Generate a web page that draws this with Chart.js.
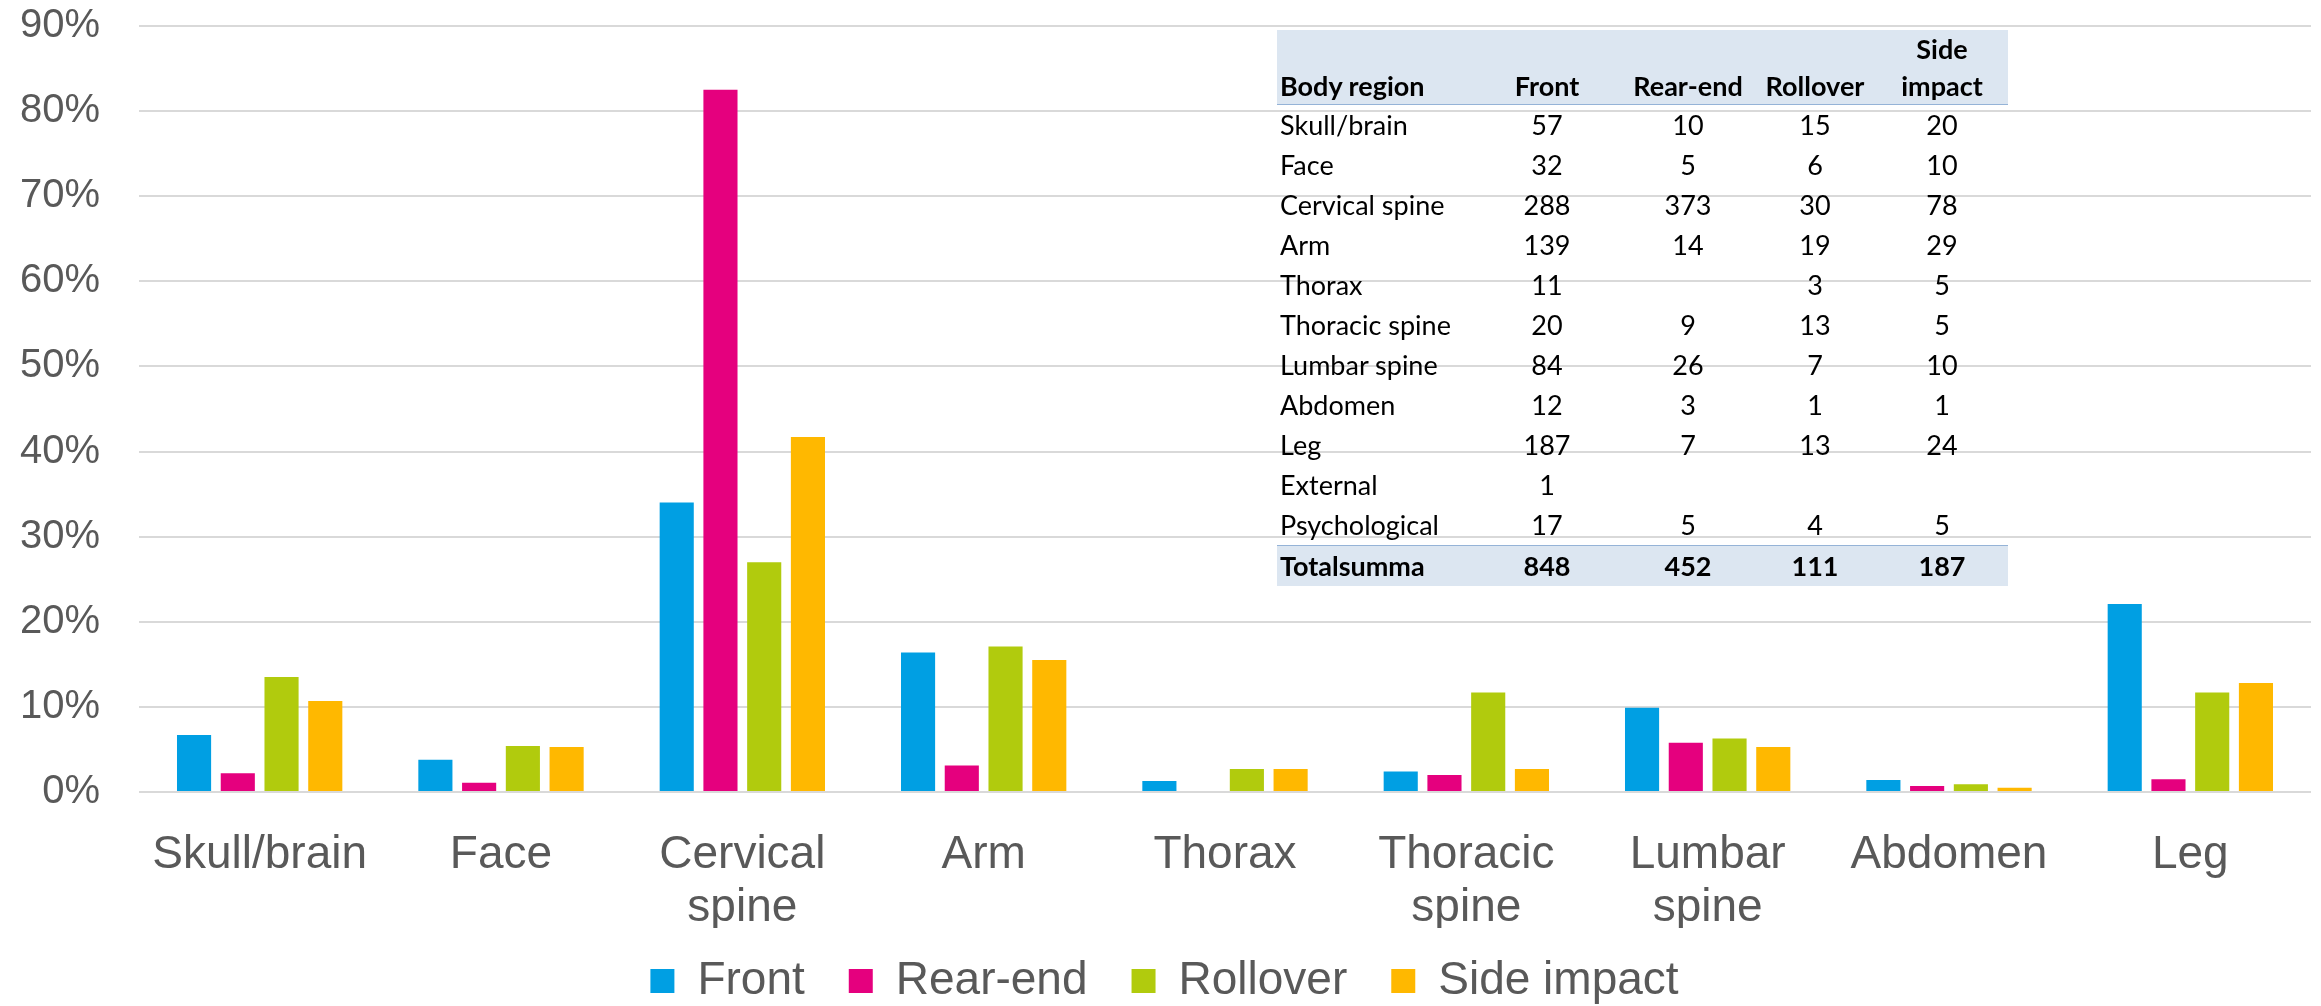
<!DOCTYPE html>
<html>
<head>
<meta charset="utf-8">
<script src="https://cdn.jsdelivr.net/npm/chart.js@4"></script>
<style>
  html, body { margin: 0; padding: 0; background: #fff; }
  #wrap { position: relative; width: 2321px; height: 1006px; }
  #chart { display: block; }
  #dataTable {
    position: absolute; left: 1277px; top: 30px;
    border-collapse: collapse; table-layout: fixed;
    font-family: Lato, "Noto Sans", sans-serif; font-size: 27px; color: #000;
  }
  #dataTable td, #dataTable th { padding: 0; height: 40px; line-height: 40px; white-space: nowrap; }
  #dataTable th { font-weight: 700; text-align: center; vertical-align: bottom; line-height: 37px; height: 72px; }
  #dataTable .lbl { text-align: left; padding-left: 3px; }
  #dataTable td { text-align: center; }
  #dataTable thead tr, #dataTable tfoot tr { background: #dce6f1; }
  #dataTable thead tr { border-bottom: 1px solid #95b3d7; }
  #dataTable tfoot tr { border-top: 1px solid #95b3d7; }
  #dataTable tfoot td { font-weight: 700; }
</style>
</head>
<body>
<div id="wrap">
  <canvas id="chart" width="2321" height="1006"></canvas>
  <table id="dataTable">
    <colgroup>
      <col style="width:195px"><col style="width:150px"><col style="width:132px"><col style="width:122px"><col style="width:132px">
    </colgroup>
    <thead></thead>
    <tbody></tbody>
    <tfoot></tfoot>
  </table>
</div>
<script>
// ── Chart data (share of each crash type, %) ──────────────
const categories = ['Skull/brain', 'Face', ['Cervical', 'spine'], 'Arm', 'Thorax',
  ['Thoracic', 'spine'], ['Lumbar', 'spine'], 'Abdomen', 'Leg'];
const seriesNames = ['Front', 'Rear-end', 'Rollover', 'Side impact'];
const frontPct    = [6.7, 3.8, 34.0, 16.4, 1.3, 2.4, 9.9, 1.4, 22.1];
const rearEndPct  = [2.2, 1.1, 82.5, 3.1, null, 2.0, 5.8, 0.7, 1.5];
const rolloverPct = [13.5, 5.4, 27.0, 17.1, 2.7, 11.7, 6.3, 0.9, 11.7];
const sidePct     = [10.7, 5.3, 41.7, 15.5, 2.7, 2.7, 5.3, 0.5, 12.8];
const yTicks = [0, 10, 20, 30, 40, 50, 60, 70, 80, 90];

const COLORS = ['#009fe3', '#e5007e', '#b1cb0d', '#ffb800'];
const FONT = '"Liberation Sans", Arial, sans-serif';

// ── Table data (counts) ───────────────────────────────────
const tableHeaders = ['Body region', 'Front', 'Rear-end', 'Rollover', ['Side', 'impact']];
const tableRegions = ['Skull/brain', 'Face', 'Cervical spine', 'Arm', 'Thorax', 'Thoracic spine',
  'Lumbar spine', 'Abdomen', 'Leg', 'External', 'Psychological'];
const tableFront    = [57, 32, 288, 139, 11, 20, 84, 12, 187, 1, 17];
const tableRearEnd  = [10, 5, 373, 14, '', 9, 26, 3, 7, '', 5];
const tableRollover = [15, 6, 30, 19, 3, 13, 7, 1, 13, '', 4];
const tableSide     = [20, 10, 78, 29, 5, 5, 10, 1, 24, '', 5];
const tableTotals   = ['Totalsumma', 848, 452, 111, 187];

// ── Table ─────────────────────────────────────────────────
function renderTable() {
  const t = document.getElementById('dataTable');
  t.querySelector('thead').innerHTML = '<tr>' + tableHeaders.map((h, i) =>
    `<th class="${i === 0 ? 'lbl' : ''}">${Array.isArray(h) ? h.join('<br>') : h}</th>`).join('') + '</tr>';
  t.querySelector('tbody').innerHTML = tableRegions.map((r, i) => `
    <tr>
      <td class="lbl">${r}</td>
      <td>${tableFront[i]}</td>
      <td>${tableRearEnd[i]}</td>
      <td>${tableRollover[i]}</td>
      <td>${tableSide[i]}</td>
    </tr>`).join('');
  t.querySelector('tfoot').innerHTML = '<tr>' + tableTotals.map((v, i) =>
    `<td class="${i === 0 ? 'lbl' : ''}">${v}</td>`).join('') + '</tr>';
}

// legend box gets a fixed height; items are drawn a bit higher, like the original
const legendFix = {
  id: 'legendFix',
  afterInit(chart) {
    const lg = chart.legend;
    const fit = lg.fit;
    const draw = lg.draw;
    lg.fit = function () { fit.call(this); this.height = 78; };
    lg.draw = function () {
      const top = this.top;
      this.top = top - 14;
      draw.call(this);
      this.top = top;
    };
  },
};

// ── Chart ─────────────────────────────────────────────────
const values = [frontPct, rearEndPct, rolloverPct, sidePct];

new Chart(document.getElementById('chart'), {
  type: 'bar',
  data: {
    labels: categories,
    datasets: seriesNames.map((name, i) => ({
      label: name,
      data: values[i],
      backgroundColor: COLORS[i],
      borderWidth: 0,
      categoryPercentage: 0.725,
      barPercentage: 0.78,
    })),
  },
  plugins: [legendFix],
  options: {
    responsive: false,
    animation: false,
    layout: { padding: { left: 18, right: 10, top: 26, bottom: 0 } },
    scales: {
      x: {
        grid: { display: false },
        border: { display: false },
        ticks: {
          color: '#595959',
          font: { family: FONT, size: 46, lineHeight: 1.15 },
          padding: 29,
          maxRotation: 0,
          autoSkip: false,
        },
        afterFit: axis => { axis.paddingLeft = 0; axis.paddingRight = 0; axis.height = 136; },
      },
      y: {
        min: 0,
        max: 90,
        afterBuildTicks: axis => { axis.ticks = yTicks.map(v => ({ value: v })); },
        grid: { color: '#d9d9d9', lineWidth: 2, drawTicks: false },
        border: { display: false },
        ticks: {
          color: '#595959',
          font: { family: FONT, size: 40 },
          padding: 39,
          callback: v => v + '%',
        },
        afterFit: axis => { axis.paddingTop = 0; axis.paddingBottom = 0; axis.width = 121; },
      },
    },
    plugins: {
      legend: {
        position: 'bottom',
        labels: {
          color: '#595959',
          font: { family: FONT, size: 46 },
          boxWidth: 24,
          boxHeight: 24,
          padding: 44,
        },
      },
      tooltip: { enabled: false },
    },
  },
});

renderTable();
</script>
</body>
</html>
